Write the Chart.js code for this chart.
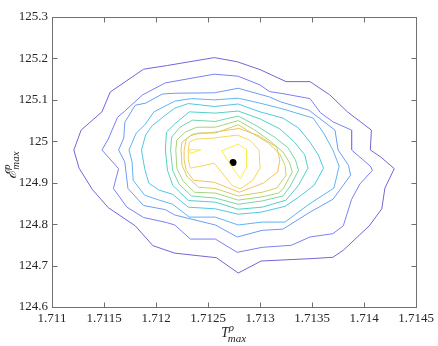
<!DOCTYPE html>
<html lang="en">
<head>
<meta charset="UTF-8">
<title>Contour of maxima</title>
<script src="https://cdn.jsdelivr.net/npm/chart.js"></script>
<style>
    body { margin: 0; background: #fff; }
    #wrap { width: 438px; height: 346px; }
</style>
</head>
<body>
<div id="wrap"><canvas id="contourChart" width="438" height="346"></canvas></div>
<script>
// tick values and labels
const xTicks = [1.711, 1.7115, 1.712, 1.7125, 1.713, 1.7135, 1.714, 1.7145];
const xTickLabels = ['1.711', '1.7115', '1.712', '1.7125', '1.713', '1.7135', '1.714', '1.7145'];
const yTicks = [124.6, 124.7, 124.8, 124.9, 125, 125.1, 125.2, 125.3];
const yTickLabels = ['124.6', '124.7', '124.8', '124.9', '125', '125.1', '125.2', '125.3'];

// contour lines, outermost level first: [T, E] vertices
const level1 = [[1.71121,124.979],[1.71128,125.027],[1.71148,125.071],[1.71156,125.119],[1.71188,125.174],[1.71211,125.183],[1.71256,125.202],[1.71278,125.192],[1.71300,125.173],[1.71325,125.144],[1.71348,125.144],[1.71367,125.112],[1.71384,125.071],[1.71407,125.027],[1.71406,124.979],[1.71416,124.962],[1.71429,124.934],[1.71420,124.887],[1.71417,124.837],[1.71405,124.796],[1.71380,124.737],[1.71370,124.720],[1.71351,124.717],[1.71301,124.711],[1.71279,124.682],[1.71258,124.719],[1.71218,124.730],[1.71197,124.748],[1.71180,124.796],[1.71154,124.840],[1.71139,124.883],[1.71126,124.935]];
const level2 = [[1.71148,124.979],[1.71154,125.005],[1.71163,125.058],[1.71170,125.073],[1.71187,125.112],[1.71209,125.141],[1.71256,125.162],[1.71279,125.157],[1.71300,125.136],[1.71309,125.120],[1.71322,125.115],[1.71348,125.103],[1.71358,125.069],[1.71370,125.047],[1.71388,125.027],[1.71388,124.979],[1.71406,124.940],[1.71408,124.930],[1.71396,124.897],[1.71388,124.860],[1.71380,124.796],[1.71370,124.777],[1.71348,124.769],[1.71330,124.749],[1.71302,124.744],[1.71278,124.732],[1.71257,124.764],[1.71233,124.764],[1.71218,124.798],[1.71210,124.804],[1.71188,124.816],[1.71172,124.841],[1.71159,124.886],[1.71164,124.934]];
const level3 = [[1.71164,124.979],[1.71169,125.008],[1.71170,125.046],[1.71180,125.087],[1.71190,125.092],[1.71206,125.114],[1.71218,125.116],[1.71256,125.117],[1.71279,125.128],[1.71309,125.107],[1.71320,125.095],[1.71347,125.075],[1.71372,125.027],[1.71375,124.979],[1.71385,124.942],[1.71387,124.918],[1.71370,124.860],[1.71348,124.829],[1.71322,124.788],[1.71302,124.785],[1.71278,124.769],[1.71257,124.798],[1.71218,124.822],[1.71209,124.835],[1.71188,124.845],[1.71173,124.886],[1.71170,124.950]];
const level4 = [[1.71174,124.979],[1.71181,125.020],[1.71189,125.039],[1.71198,125.071],[1.71218,125.097],[1.71234,125.103],[1.71256,125.100],[1.71279,125.104],[1.71300,125.092],[1.71322,125.078],[1.71351,125.056],[1.71361,125.020],[1.71370,124.979],[1.71376,124.940],[1.71371,124.887],[1.71347,124.848],[1.71324,124.805],[1.71302,124.805],[1.71279,124.798],[1.71257,124.817],[1.71232,124.817],[1.71216,124.848],[1.71203,124.858],[1.71189,124.870],[1.71178,124.906],[1.71177,124.950]];
const level5 = [[1.71186,124.979],[1.71190,125.015],[1.71196,125.037],[1.71209,125.063],[1.71218,125.080],[1.71231,125.091],[1.71256,125.084],[1.71279,125.090],[1.71300,125.071],[1.71322,125.056],[1.71337,125.032],[1.71348,124.998],[1.71356,124.967],[1.71361,124.935],[1.71352,124.894],[1.71337,124.865],[1.71324,124.843],[1.71301,124.829],[1.71279,124.824],[1.71257,124.837],[1.71231,124.841],[1.71216,124.872],[1.71203,124.882],[1.71193,124.899],[1.71189,124.935]];
const level6 = [[1.71209,124.979],[1.71210,125.022],[1.71218,125.042],[1.71232,125.071],[1.71257,125.068],[1.71279,125.073],[1.71300,125.054],[1.71319,125.030],[1.71333,124.998],[1.71343,124.967],[1.71346,124.935],[1.71337,124.894],[1.71325,124.858],[1.71302,124.841],[1.71279,124.836],[1.71257,124.853],[1.71231,124.857],[1.71216,124.894],[1.71211,124.930]];
const level7 = [[1.71214,124.979],[1.71215,125.010],[1.71223,125.034],[1.71235,125.051],[1.71257,125.048],[1.71279,125.061],[1.71297,125.037],[1.71314,125.010],[1.71327,124.984],[1.71334,124.955],[1.71337,124.930],[1.71329,124.892],[1.71322,124.868],[1.71302,124.856],[1.71279,124.848],[1.71257,124.863],[1.71234,124.868],[1.71222,124.897],[1.71216,124.930]];
const level8 = [[1.71219,124.979],[1.71220,125.003],[1.71228,125.022],[1.71239,125.034],[1.71257,125.034],[1.71279,125.050],[1.71295,125.027],[1.71310,125.000],[1.71322,124.974],[1.71328,124.950],[1.71331,124.926],[1.71323,124.889],[1.71318,124.875],[1.71302,124.866],[1.71279,124.858],[1.71257,124.875],[1.71237,124.877],[1.71226,124.904],[1.71220,124.935]];
const level9 = [[1.71224,124.979],[1.71225,124.998],[1.71233,125.013],[1.71241,125.020],[1.71257,125.020],[1.71279,125.040],[1.71294,125.017],[1.71308,124.996],[1.71319,124.969],[1.71324,124.942],[1.71325,124.918],[1.71316,124.887],[1.71302,124.877],[1.71279,124.868],[1.71257,124.886],[1.71241,124.889],[1.71230,124.914],[1.71225,124.942]];
const level10 = [[1.71227,124.979],[1.71229,125.005],[1.71235,125.017],[1.71256,125.022],[1.71280,125.031],[1.71299,125.013],[1.71316,124.986],[1.71319,124.955],[1.71317,124.926],[1.71303,124.899],[1.71280,124.877],[1.71256,124.901],[1.71236,124.906],[1.71229,124.930],[1.71227,124.955]];
const level11 = [[1.71231,124.979],[1.71232,124.998],[1.71238,125.005],[1.71256,125.008],[1.71278,125.015],[1.71290,125.003],[1.71299,124.979],[1.71300,124.935],[1.71293,124.906],[1.71281,124.885],[1.71273,124.894],[1.71256,124.947],[1.71233,124.935],[1.71231,124.955]];
const level12a = [[1.71232,124.980],[1.71243,124.979],[1.71233,124.971]];
const level12b = [[1.71263,124.977],[1.71279,124.993],[1.71287,124.980],[1.71287,124.938],[1.71281,124.910],[1.71272,124.942]];

// the marked maximum
const peakT = [1.71274];
const peakE = [124.949];

const contours = [level1, level2, level3, level4, level5, level6, level7, level8, level9, level10, level11, level12a, level12b];
const contourColors = ['#7365d6', '#7a80f0', '#6c9cf4', '#5fb3f2', '#52c6e4', '#52d0c6', '#74d7a8', '#a6d47c', '#d2ce62', '#f3c25e', '#f7d656', '#f7ee48', '#f7ee48'];

const datasets = contours.map((pts, i) => ({
    data: pts.concat([pts[0]]).map(p => ({ x: p[0], y: p[1] })),
    showLine: true,
    borderColor: contourColors[i],
    borderWidth: 1,
    pointRadius: 0,
    tension: 0,
    fill: false
}));
datasets.push({
    data: peakT.map((t, i) => ({ x: t, y: peakE[i] })),
    pointRadius: 3.5,
    backgroundColor: '#000',
    borderWidth: 0
});

// box, inward ticks and axis titles
const framePlugin = {
    id: 'frame',
    afterDraw(chart) {
        const { ctx, chartArea: a, scales: { x, y } } = chart;
        const L = Math.round(a.left) + 0.5, R = Math.round(a.right) + 0.5;
        const T = Math.round(a.top) + 0.5, B = Math.round(a.bottom) + 0.5;
        ctx.save();
        ctx.strokeStyle = '#707070';
        ctx.lineWidth = 1;
        ctx.strokeRect(L, T, R - L, B - T);
        ctx.beginPath();
        xTicks.forEach(v => {
            const px = Math.round(x.getPixelForValue(v)) + 0.5;
            ctx.moveTo(px, B); ctx.lineTo(px, B - 5);
            ctx.moveTo(px, T); ctx.lineTo(px, T + 5);
        });
        yTicks.forEach(v => {
            const py = Math.round(y.getPixelForValue(v)) + 0.5;
            ctx.moveTo(L, py); ctx.lineTo(L + 5, py);
            ctx.moveTo(R, py); ctx.lineTo(R - 5, py);
        });
        ctx.stroke();

        ctx.fillStyle = '#262626';
        ctx.textBaseline = 'alphabetic';
        // x title: T^rho_max
        const cx = (a.left + a.right) / 2;
        ctx.font = 'italic 14px "Liberation Serif"';
        const wT = ctx.measureText('T').width;
        ctx.font = 'italic 11px "Liberation Serif"';
        const wMax = ctx.measureText('max').width;
        let x0 = cx - (wT + wMax) / 2;
        ctx.font = 'italic 14px "Liberation Serif"';
        ctx.fillText('T', x0, 337);
        ctx.font = 'italic 11px "Liberation Serif"';
        ctx.fillText('\u03C1', x0 + wT, 331);
        ctx.fillText('max', x0 + wT - 1, 342);

        // y title: E^rho_max, rotated
        const cy = (a.top + a.bottom) / 2 + 3;
        ctx.translate(16, cy);
        ctx.rotate(-Math.PI / 2);
        ctx.font = 'italic 15px "DejaVu Serif"';
        const wE = ctx.measureText('\u2130').width;
        ctx.font = 'italic 11px "Liberation Serif"';
        const wM = ctx.measureText('max').width;
        const y0 = -(wE + wM) / 2;
        ctx.font = 'italic 15px "DejaVu Serif"';
        ctx.fillText('\u2130', y0, 0);
        ctx.font = 'italic 11px "Liberation Serif"';
        ctx.fillText('\u03C1', y0 + wE, -6);
        ctx.fillText('max', y0 + wE, 3);
        ctx.restore();
    }
};

new Chart(document.getElementById('contourChart'), {
    type: 'scatter',
    data: { datasets: datasets },
    options: {
        responsive: false,
        animation: false,
        devicePixelRatio: 1,
        layout: { padding: { top: 17, right: 20, left: 0, bottom: 0 } },
        plugins: { legend: { display: false }, tooltip: { enabled: false } },
        scales: {
            x: {
                type: 'linear',
                min: 1.711,
                max: 1.7145,
                afterBuildTicks: s => { s.ticks = xTicks.map(v => ({ value: v })); },
                afterFit: s => { s.height = 39; },
                ticks: {
                    callback: (v, i) => xTickLabels[i],
                    font: { family: 'Liberation Serif', size: 13 },
                    color: '#262626',
                    padding: 4,
                    maxRotation: 0,
                    autoSkip: false
                },
                grid: { display: false, drawTicks: false },
                border: { display: false }
            },
            y: {
                type: 'linear',
                min: 124.6,
                max: 125.3,
                afterBuildTicks: s => { s.ticks = yTicks.map(v => ({ value: v })); },
                afterFit: s => { s.width = 52; },
                ticks: {
                    callback: (v, i) => yTickLabels[i],
                    font: { family: 'Liberation Serif', size: 13 },
                    color: '#262626',
                    padding: 4,
                    autoSkip: false
                },
                grid: { display: false, drawTicks: false },
                border: { display: false }
            }
        }
    },
    plugins: [framePlugin]
});
</script>
</body>
</html>
